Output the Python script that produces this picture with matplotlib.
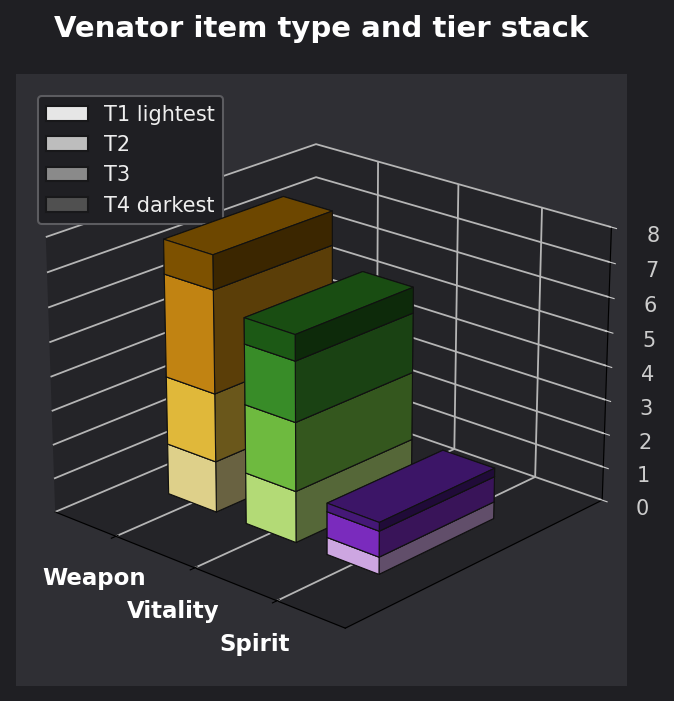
import matplotlib
matplotlib.use("Agg")
import numpy as np
import matplotlib.pyplot as plt
from matplotlib.patches import Patch

# Stack heights per item type
item_types = ["Weapon", "Vitality", "Spirit"]
tier_names = ["T1 lightest", "T2", "T3", "T4 darkest"]
t1 = [1.5, 1.5, 0.5]
t2 = [2, 2, 0.75]
t3 = [3, 1.75, 0.25]
t4 = [1, 0.75, 0]
tiers = [t1, t2, t3, t4]

weapon_cols = ["#fbeb9c", "#fed042", "#da9414", "#8e5c00"]
vitality_cols = ["#cbf786", "#7cd247", "#3f9f2d", "#206518"]
spirit_cols = ["#e8bcff", "#8a31d6", "#4e1b87", "#4e1b87"]
bar_cols = [weapon_cols, vitality_cols, spirit_cols]
legend_cols = ["#e6e6e6", "#bdbdbd", "#8a8a8a", "#505050"]

BG = "#1f1f23"
PANE = "#2f2f34"

fig = plt.figure(figsize=(6.74, 7.01), dpi=100, facecolor=BG)
ax = fig.add_axes([0.022, 0.022, 0.91, 0.873], projection="3d", facecolor=PANE)

for i in range(len(item_types)):
    bottom = 0
    for j, vals in enumerate(tiers):
        if vals[i] == 0:
            continue
        ax.bar3d(i - 0.31, 0.01, bottom, 0.62, 0.98, vals[i], color=bar_cols[i][j],
                 edgecolor="#111111", linewidth=0.8, shade=True)
        bottom += vals[i]

ax.set_xticks(range(len(item_types)))
ax.set_xticklabels(item_types, color="white", fontsize=16.5, fontweight="bold")
ax.set_yticks([])
ax.set_zticks(range(9))
ax.set_zlim(0, 8)
ax.set_xlim(-0.8, 2.8)
ax.set_ylim(-0.6, 1.6)
ax.tick_params(axis="z", colors="#cccccc", labelsize=15, pad=9)
ax.tick_params(axis="x", pad=10)
ax.view_init(elev=22, azim=-48)
ax.set_box_aspect(None, zoom=1.0)

for axis in (ax.xaxis, ax.yaxis, ax.zaxis):
    axis.set_pane_color("#242428")
    axis._axinfo["grid"]["color"] = "#b5b5b5"
    axis._axinfo["grid"]["linewidth"] = 1.3

handles = [Patch(facecolor=c, edgecolor="#18181a", linewidth=1.5, label=n)
           for c, n in zip(legend_cols, tier_names)]
leg = ax.legend(handles=handles, loc="upper left", bbox_to_anchor=(0.036, 0.963),
                fontsize=15, facecolor=BG, edgecolor="#5c5c60", labelcolor="#eeeeee",
                framealpha=1, borderaxespad=0)
leg.get_frame().set_linewidth(1.5)
fig.suptitle("Venator item type and tier stack", color="white", fontsize=21,
             fontweight="bold", x=0.476, y=0.979)
fig.savefig("out.png", dpi=100, facecolor=BG)
